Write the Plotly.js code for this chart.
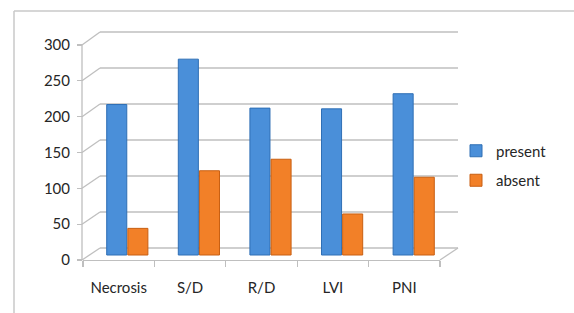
<!DOCTYPE html>
<html>
<head>
<meta charset="utf-8">
<script src="https://cdn.plot.ly/plotly-3.0.1.min.js"></script>
<style>html,body{margin:0;padding:0;background:#fff;}#chart{width:574px;height:313px;}</style>
</head>
<body>
<div id="chart"></div>
<script>
// ---- data ----
const categories = ["Necrosis", "S/D", "R/D", "LVI", "PNI"];
const presentValues = [209, 272, 204, 203, 224];
const absentValues = [37, 117, 133, 57, 108];
const seriesNames = ["present", "absent"];
const yTicks = [0, 50, 100, 150, 200, 250, 300];

// ---- geometry helpers (pixel framing of the pseudo-3D box) ----
const W = 574, H = 313;
const L = 83, R = 458, T = 32, B = 260;       // plot area in px
const pw = R - L, ph = B - T;
const px2x = px => (px - L) / pw;
const py2y = py => (B - py) / ph;
const frontPy = v => 260 - v * 215 / 300;     // front axis scale
const backPy = v => 248 - v * 0.72;           // back wall scale
const gridColor = "#bfbfbf";

const shapes = [];
yTicks.forEach(v => {
  shapes.push({type: "line", xref: "paper", yref: "paper", layer: "below",
    x0: px2x(100), x1: px2x(458), y0: py2y(backPy(v)), y1: py2y(backPy(v)),
    line: {color: gridColor, width: 1.3}});
  shapes.push({type: "line", xref: "paper", yref: "paper", layer: "below",
    x0: px2x(82), x1: px2x(100), y0: py2y(frontPy(v)), y1: py2y(backPy(v)),
    line: {color: gridColor, width: 1.3}});
});
shapes.push({type: "line", xref: "paper", yref: "paper", layer: "below",
  x0: px2x(82), x1: px2x(82), y0: py2y(frontPy(0)), y1: py2y(frontPy(yTicks[yTicks.length - 1])),
  line: {color: gridColor, width: 1.3}});
shapes.push({type: "line", xref: "paper", yref: "paper", layer: "below",
  x0: px2x(440), x1: px2x(458), y0: py2y(260), y1: py2y(248),
  line: {color: gridColor, width: 1.3}});
shapes.push({type: "line", xref: "paper", yref: "paper", layer: "below",
  x0: px2x(14), x1: px2x(574), y0: py2y(11), y1: py2y(11),
  line: {color: "#c8c8c8", width: 1.5}});
shapes.push({type: "line", xref: "paper", yref: "paper", layer: "below",
  x0: px2x(14), x1: px2x(14), y0: py2y(11), y1: py2y(313),
  line: {color: "#c8c8c8", width: 1.5}});

const font = {family: "Lato, 'Open Sans', sans-serif", size: 15, color: "#262626"};

const traces = [
  // carrier for the front (labelled) axes; draws nothing
  {type: "scatter", mode: "markers", x: categories, y: categories.map(() => null),
   xaxis: "x", yaxis: "y", showlegend: false, hoverinfo: "skip"},
  {type: "bar", name: seriesNames[0], x: categories, y: presentValues,
   xaxis: "x2", yaxis: "y3", legendgroup: "a",
   marker: {color: "#4a8fd9", line: {color: "#2f6fb5", width: 1}}},
  {type: "bar", name: seriesNames[1], x: categories, y: absentValues,
   xaxis: "x2", yaxis: "y3", legendgroup: "b",
   marker: {color: "#f28028", line: {color: "#c85f12", width: 1}}}
];

const layout = {
  width: W, height: H,
  margin: {l: L, r: W - R, t: T, b: H - B, pad: 0},
  paper_bgcolor: "#ffffff",
  plot_bgcolor: "rgba(0,0,0,0)",
  font: font,
  barmode: "group",
  bargap: 0.41,
  bargroupgap: 0.05,
  showlegend: true,
  legend: {x: px2x(456), xanchor: "left", y: py2y(165.5), yanchor: "middle",
           font: {family: font.family, size: 15, color: "#262626"},
           tracegroupgap: 7, bgcolor: "rgba(0,0,0,0)", itemwidth: 30},
  xaxis: {domain: [0, px2x(440)], range: [-0.5, 4.5], type: "category",
          categoryarray: categories, categoryorder: "array",
          showline: true, linecolor: gridColor, linewidth: 1.3,
          ticks: "outside", tickson: "boundaries", ticklen: 6,
          tickcolor: gridColor, tickwidth: 1.3,
          showgrid: false, zeroline: false, fixedrange: true,
          tickfont: font, ticklabelstandoff: 14, anchor: "y"},
  yaxis: {domain: [0, 1], range: [0, 300 * ph / 215], tickvals: yTicks,
          ticks: "outside", ticklen: 5, tickcolor: gridColor, tickwidth: 1.3,
          showgrid: false, zeroline: false, showline: false,
          tickfont: font, ticklabelstandoff: 4, anchor: "x"},
  xaxis2: {domain: [px2x(91.5), px2x(449.5)], range: [-0.5, 4.5], type: "category",
           categoryarray: categories, categoryorder: "array",
           visible: false, anchor: "y3"},
  yaxis3: {domain: [0, 1], range: [-(260 - 255) / 0.72, (255 - 32) / 0.72],
           visible: false, anchor: "x2", showgrid: false, zeroline: false},
  shapes: shapes
};

Plotly.newPlot("chart", traces, layout, {displayModeBar: false, staticPlot: true});
</script>
</body>
</html>
